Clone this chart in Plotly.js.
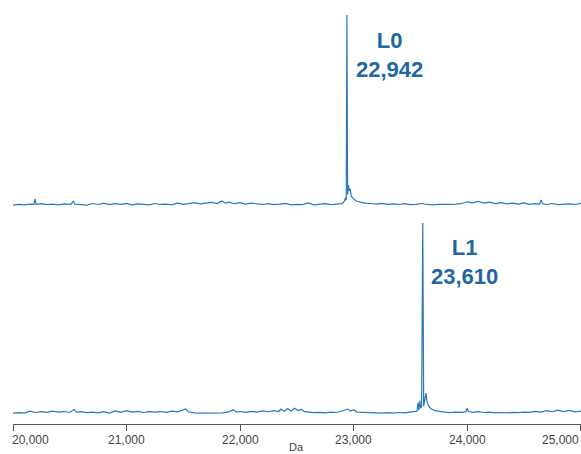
<!DOCTYPE html>
<html>
<head>
<meta charset="utf-8">
<script src="https://cdn.plot.ly/plotly-3.0.1.min.js"></script>
<style>html,body{margin:0;padding:0;background:#fff}#chart{width:581px;height:454px}</style>
</head>
<body>
<div id="chart"></div>
<script>
// Top spectrum (L0)
var massL0 = [20000,20050,20100,20150,20185,20194,20203,20250,20300,20350,20400,20450,20510,20530,20545,20600,20650,20700,20750,20800,20850,20900,20950,21000,21050,21100,21150,21200,21250,21300,21350,21400,21450,21500,21550,21600,21650,21700,21750,21800,21840,21870,21900,21950,22000,22050,22100,22150,22200,22250,22300,22350,22400,22450,22500,22550,22600,22650,22700,22750,22800,22850,22900,22920,22930,22936,22942,22948,22955,22962,22970,22980,22995,23010,23030,23060,23100,23150,23200,23250,23300,23350,23400,23450,23500,23550,23600,23650,23700,23750,23800,23850,23900,23950,24000,24050,24100,24150,24200,24250,24300,24350,24400,24450,24500,24550,24600,24640,24652,24665,24700,24750,24800,24850,24900,24950,25004];
var intensityL0 = [0.5,0.8,0.6,1.0,0.8,3.8,0.9,1.2,0.7,1.0,0.6,1.1,0.9,2.5,1.0,0.7,0.5,1.3,0.8,1.5,0.7,1.2,0.9,1.4,0.6,1.1,0.9,0.6,1.3,0.8,1.0,0.6,1.6,0.9,1.2,1.8,1.1,1.5,1.9,1.3,2.6,1.5,2.0,1.2,1.8,1.0,1.5,1.1,0.8,1.2,0.7,1.0,1.4,0.6,0.9,0.7,1.6,0.6,0.8,1.2,0.7,0.9,1.2,2.5,4.5,3.0,100,6,11,8,9,5,4,3.2,2.5,2.0,1.5,1.3,1.0,1.4,0.9,1.1,0.8,1.2,0.7,0.9,1.3,0.8,0.6,0.8,0.7,0.9,1.0,1.2,2.2,1.6,2.4,1.5,2.0,1.3,1.8,1.1,1.5,1.0,1.6,0.9,1.2,1.0,3.2,1.2,0.8,1.3,0.7,0.9,1.1,0.8,1.4];

// Bottom spectrum (L1)
var massL1 = [20000,20050,20100,20150,20200,20250,20300,20350,20400,20450,20500,20537,20560,20600,20650,20700,20750,20800,20850,20900,20950,21000,21050,21100,21150,21200,21250,21300,21350,21400,21450,21500,21520,21545,21600,21650,21700,21750,21800,21850,21900,21940,21970,22000,22050,22100,22150,22200,22250,22300,22340,22360,22390,22420,22450,22480,22510,22540,22570,22600,22650,22700,22750,22800,22850,22900,22950,22975,23000,23030,23100,23150,23200,23250,23300,23350,23400,23450,23500,23540,23560,23568,23576,23584,23592,23600,23610,23618,23628,23638,23646,23655,23670,23690,23720,23760,23800,23850,23900,23950,23990,24000,24012,24050,24100,24150,24200,24250,24300,24350,24400,24450,24500,24550,24600,24650,24700,24750,24800,24850,24900,24950,25004];
var intensityL1 = [0.5,0.7,0.5,1.5,0.8,1.2,0.9,1.5,1.0,1.3,0.8,2.4,1.0,1.2,0.7,1.0,0.6,1.2,0.5,1.6,0.9,1.8,1.0,1.4,0.8,1.2,1.0,1.3,0.9,1.5,1.1,1.9,2.6,1.2,0.6,0.5,0.6,0.5,0.8,0.6,1.1,2.3,1.0,1.3,0.9,1.4,1.0,1.6,1.2,1.8,1.3,2.6,1.5,2.9,1.6,3.0,1.8,2.4,1.2,1.0,0.7,0.9,0.6,1.0,0.8,1.6,2.6,1.5,2.2,1.0,0.7,0.5,0.6,0.5,0.7,0.5,0.8,0.6,0.9,1.0,1.5,6,2,7,3,4,100,4,8,11,7,5,3.5,2.5,1.8,1.3,1.0,0.7,1.0,0.9,1.2,3.0,1.3,0.9,1.2,0.8,1.0,0.6,0.8,0.6,0.9,0.7,1.0,0.9,1.4,1.0,1.8,1.2,2.0,1.3,1.9,1.1,1.5];

var tickValues = [20000,21000,22000,23000,24000,25000];
var tickLabels = ['20,000','21,000','22,000','23,000','24,000','25,000'];
var peakLabels = ['L0<br>22,942','L1<br>23,610'];
var axisTitle = 'Da';

var lineColor = '#2b78b8';
var labelColor = '#1f66a3';

var traces = [
  {x: massL0, y: intensityL0, xaxis: 'x2', yaxis: 'y', type: 'scatter', mode: 'lines',
   line: {color: lineColor, width: 1.2}, hoverinfo: 'skip'},
  {x: massL1, y: intensityL1, xaxis: 'x', yaxis: 'y2', type: 'scatter', mode: 'lines',
   line: {color: lineColor, width: 1.2}, hoverinfo: 'skip'}
];

var annotations = [];
tickValues.forEach(function (v, i) {
  var anchor = i === 0 ? 'left' : (i === tickValues.length - 1 ? 'right' : 'center');
  var shift = i === 0 ? -3 : 0;
  annotations.push({x: v, xref: 'x', y: 0, yref: 'paper', yanchor: 'top', xanchor: anchor,
    xshift: shift, yshift: -7, text: tickLabels[i], showarrow: false,
    font: {family: 'Liberation Sans, Arial, sans-serif', size: 12, color: '#444'}});
});
annotations.push({x: 22500, xref: 'x', y: 0, yref: 'paper', yanchor: 'top', xanchor: 'center',
  yshift: -16, text: axisTitle, showarrow: false, borderpad: 0,
  font: {family: 'Liberation Sans, Arial, sans-serif', size: 11, color: '#444'}});
annotations.push({x: 23319, xref: 'x2', y: 79.1, yref: 'y', xanchor: 'center', yanchor: 'middle',
  text: '<b>' + peakLabels[0] + '</b>', showarrow: false,
  font: {family: 'Liberation Sans, Arial, sans-serif', size: 22, color: labelColor}});
annotations.push({x: 23979, xref: 'x', y: 79.6, yref: 'y2', xanchor: 'center', yanchor: 'middle',
  text: '<b>' + peakLabels[1] + '</b>', showarrow: false,
  font: {family: 'Liberation Sans, Arial, sans-serif', size: 22, color: labelColor}});

var layout = {
  width: 581, height: 454,
  margin: {l: 13, r: 0, t: 0, b: 30},
  paper_bgcolor: '#fff', plot_bgcolor: '#fff',
  showlegend: false,
  xaxis: {domain: [0, 1], anchor: 'y2', range: [20000, 25004], showgrid: false, zeroline: false,
    showline: true, linecolor: '#555', linewidth: 1, ticks: 'outside', ticklen: 6,
    tickcolor: '#555', tickvals: tickValues, showticklabels: false},
  xaxis2: {domain: [0, 1], anchor: 'y', matches: 'x', range: [20000, 25004], visible: false},
  yaxis: {domain: [0.5, 1], range: [-3.14, 107.86], visible: false},
  yaxis2: {domain: [0, 0.5], range: [-5.23, 105.77], visible: false},
  annotations: annotations
};

Plotly.newPlot('chart', traces, layout, {staticPlot: true});
</script>
</body>
</html>
